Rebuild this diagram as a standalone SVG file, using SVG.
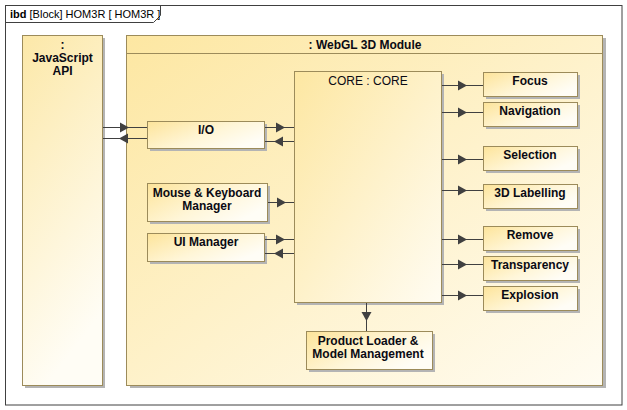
<svg xmlns="http://www.w3.org/2000/svg" width="627" height="410" viewBox="0 0 627 410">
<style>
  .frame{fill:#ffffff;stroke:#404040;stroke-width:1}
  .blk{stroke:#9c8b5a;stroke-width:1}
  .shadow{fill:#b4b4b4}
  .t{font-family:"Liberation Sans",Arial,sans-serif;font-size:12px;font-weight:bold;fill:#0a0a14;text-anchor:middle}
  .tr{font-family:"Liberation Sans",Arial,sans-serif;font-size:12px;fill:#0a0a14;text-anchor:middle}
  .hdr{font-family:"Liberation Sans",Arial,sans-serif;font-size:11px;fill:#000}
  .ln{stroke:#404040;stroke-width:1;fill:none}
  .ah{fill:#404040}
</style>
<defs>
  <linearGradient id="gBig" x1="0" y1="0" x2="1" y2="1">
    <stop offset="0" stop-color="#fde7a2"/>
    <stop offset="1" stop-color="#fffcf2"/>
  </linearGradient>
  <linearGradient id="gCol" x1="0" y1="0" x2="0.3" y2="1">
    <stop offset="0" stop-color="#fce8a8"/>
    <stop offset="1" stop-color="#fffdf5"/>
  </linearGradient>
  <linearGradient id="gSm" x1="0" y1="0" x2="1" y2="0.6">
    <stop offset="0" stop-color="#fde49a"/>
    <stop offset="0.6" stop-color="#fff6d8"/>
    <stop offset="1" stop-color="#fffdf6"/>
  </linearGradient>
  <path id="ahR" d="M0,0 L-9,-5 L-9,5 Z"/>
</defs>

<!-- diagram frame -->
<g id="frame">
  <rect class="frame" x="5.5" y="5.5" width="616.5" height="399.5"/>
  <path d="M5.5,22.5 L153.5,22.5 L160.5,15.5 L160.5,5.5" fill="none" stroke="#404040" stroke-width="1"/>
  <text class="hdr" x="10" y="18"><tspan font-weight="bold">ibd</tspan> [Block] HOM3R [ HOM3R ]</text>
</g>

<!-- JavaScript API -->
<g id="javascript-api">
  <rect class="shadow" x="25" y="38" width="80" height="350"/>
  <rect class="blk" x="22.5" y="35.5" width="80" height="350" fill="url(#gCol)"/>
  <text class="t" x="62.5" y="49">:</text>
  <text class="t" x="62.5" y="62">JavaScript</text>
  <text class="t" x="62.5" y="75">API</text>
</g>

<!-- WebGL 3D Module -->
<g id="webgl-module">
  <rect class="shadow" x="130" y="38" width="476" height="350"/>
  <rect class="blk" x="126.5" y="35.5" width="476" height="350" fill="url(#gBig)"/>
  <line class="blk" x1="126.5" y1="53.5" x2="602.5" y2="53.5"/>
  <text class="t" x="365" y="49">: WebGL 3D Module</text>
</g>

<!-- CORE -->
<g id="core">
  <rect class="shadow" x="297" y="74" width="147" height="231"/>
  <rect class="blk" x="294.5" y="71.5" width="147" height="231" fill="url(#gBig)"/>
  <text class="tr" x="368" y="85">CORE : CORE</text>
</g>

<g id="io">
  <rect class="shadow" x="150" y="124" width="117" height="27"/>
  <rect class="blk" x="147.5" y="121.5" width="117" height="27" fill="url(#gSm)"/>
  <text class="t" x="206" y="134">I/O</text>
</g>

<g id="mouse-keyboard">
  <rect class="shadow" x="150" y="186" width="120" height="38"/>
  <rect class="blk" x="147.5" y="183.5" width="120" height="38" fill="url(#gSm)"/>
  <text class="t" x="207" y="197">Mouse &amp; Keyboard</text>
  <text class="t" x="207" y="210">Manager</text>
</g>

<g id="ui-manager">
  <rect class="shadow" x="150" y="236" width="117" height="28"/>
  <rect class="blk" x="147.5" y="233.5" width="117" height="28" fill="url(#gSm)"/>
  <text class="t" x="206" y="246">UI Manager</text>
</g>

<g id="focus">
  <rect class="shadow" x="486" y="75" width="94" height="24"/>
  <rect class="blk" x="483.5" y="72.5" width="94" height="24" fill="url(#gSm)"/>
  <text class="t" x="530" y="85">Focus</text>
</g>
<g id="navigation">
  <rect class="shadow" x="486" y="105" width="94" height="24"/>
  <rect class="blk" x="483.5" y="102.5" width="94" height="24" fill="url(#gSm)"/>
  <text class="t" x="530" y="115">Navigation</text>
</g>
<g id="selection">
  <rect class="shadow" x="486" y="149" width="94" height="24"/>
  <rect class="blk" x="483.5" y="146.5" width="94" height="24" fill="url(#gSm)"/>
  <text class="t" x="530" y="159">Selection</text>
</g>
<g id="labelling">
  <rect class="shadow" x="486" y="187" width="94" height="24"/>
  <rect class="blk" x="483.5" y="184.5" width="94" height="24" fill="url(#gSm)"/>
  <text class="t" x="530" y="197">3D Labelling</text>
</g>
<g id="remove">
  <rect class="shadow" x="486" y="229" width="94" height="24"/>
  <rect class="blk" x="483.5" y="226.5" width="94" height="24" fill="url(#gSm)"/>
  <text class="t" x="530" y="239">Remove</text>
</g>
<g id="transparency">
  <rect class="shadow" x="486" y="259" width="94" height="24"/>
  <rect class="blk" x="483.5" y="256.5" width="94" height="24" fill="url(#gSm)"/>
  <text class="t" x="530" y="269">Transparency</text>
</g>
<g id="explosion">
  <rect class="shadow" x="486" y="289" width="94" height="24"/>
  <rect class="blk" x="483.5" y="286.5" width="94" height="24" fill="url(#gSm)"/>
  <text class="t" x="530" y="299">Explosion</text>
</g>

<g id="product-loader">
  <rect class="shadow" x="309" y="334" width="126" height="38"/>
  <rect class="blk" x="306.5" y="331.5" width="126" height="38" fill="url(#gSm)"/>
  <text class="t" x="368" y="345">Product Loader &amp;</text>
  <text class="t" x="368" y="358">Model Management</text>
</g>

<!-- connectors -->
<g id="connectors">
  <!-- JS API <-> I/O -->
  <line class="ln" x1="103" y1="127.5" x2="147" y2="127.5"/>
  <use href="#ahR" class="ah" transform="translate(129,127.5)"/>
  <line class="ln" x1="103" y1="138.5" x2="147" y2="138.5"/>
  <use href="#ahR" class="ah" transform="translate(119,138.5) rotate(180)"/>
  <!-- I/O <-> CORE -->
  <line class="ln" x1="265" y1="127.5" x2="294" y2="127.5"/>
  <use href="#ahR" class="ah" transform="translate(285,127.5)"/>
  <line class="ln" x1="265" y1="141.5" x2="294" y2="141.5"/>
  <use href="#ahR" class="ah" transform="translate(274,141.5) rotate(180)"/>
  <!-- Mouse & Keyboard -> CORE -->
  <line class="ln" x1="268" y1="202.5" x2="294" y2="202.5"/>
  <use href="#ahR" class="ah" transform="translate(286,202.5)"/>
  <!-- UI Manager <-> CORE -->
  <line class="ln" x1="265" y1="239.5" x2="294" y2="239.5"/>
  <use href="#ahR" class="ah" transform="translate(285,239.5)"/>
  <line class="ln" x1="265" y1="253.5" x2="294" y2="253.5"/>
  <use href="#ahR" class="ah" transform="translate(274,253.5) rotate(180)"/>
  <!-- CORE -> right modules -->
  <line class="ln" x1="442" y1="85.5" x2="483" y2="85.5"/>
  <use href="#ahR" class="ah" transform="translate(467,85.5)"/>
  <line class="ln" x1="442" y1="112.5" x2="483" y2="112.5"/>
  <use href="#ahR" class="ah" transform="translate(467,112.5)"/>
  <line class="ln" x1="442" y1="159.5" x2="483" y2="159.5"/>
  <use href="#ahR" class="ah" transform="translate(467,159.5)"/>
  <line class="ln" x1="442" y1="190.5" x2="483" y2="190.5"/>
  <use href="#ahR" class="ah" transform="translate(467,190.5)"/>
  <line class="ln" x1="442" y1="239.5" x2="483" y2="239.5"/>
  <use href="#ahR" class="ah" transform="translate(467,239.5)"/>
  <line class="ln" x1="442" y1="264.5" x2="483" y2="264.5"/>
  <use href="#ahR" class="ah" transform="translate(467,264.5)"/>
  <line class="ln" x1="442" y1="295.5" x2="483" y2="295.5"/>
  <use href="#ahR" class="ah" transform="translate(467,295.5)"/>
  <!-- CORE -> Product Loader -->
  <line class="ln" x1="366.5" y1="303" x2="366.5" y2="331"/>
  <use href="#ahR" class="ah" transform="translate(366.5,321) rotate(90)"/>
</g>
</svg>
